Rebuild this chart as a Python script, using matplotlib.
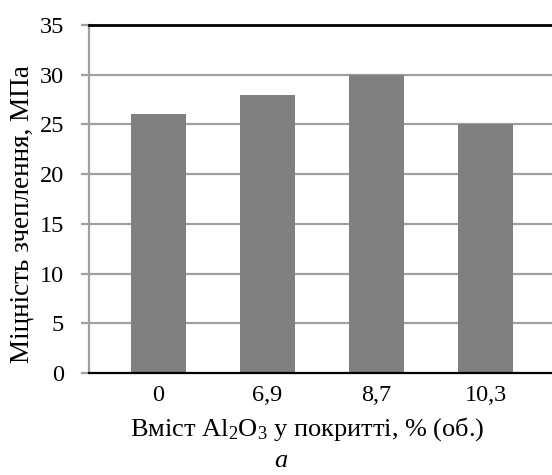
import matplotlib
matplotlib.use("Agg")
import matplotlib.pyplot as plt
from matplotlib.transforms import ScaledTranslation

categories = ["0", "6,9", "8,7", "10,3"]
values = [26, 28, 30, 25]
yticks = [0, 5, 10, 15, 20, 25, 30, 35]

plt.rcParams['font.family'] = ['Liberation Serif', 'DejaVu Serif']
plt.rcParams['mathtext.fontset'] = 'custom'
plt.rcParams['mathtext.rm'] = 'Liberation Serif'
plt.rcParams['mathtext.it'] = 'Liberation Serif:italic'

W, H = 552, 475
fig = plt.figure(figsize=(W/100, H/100), dpi=100)
ax = fig.add_axes([89/W, (H-373)/H, 1 - 89/W, (373-25)/H])

x = list(range(len(categories)))
ax.bar(x, values, width=0.5, color='#808080', zorder=3)

ax.set_ylim(0, 35)
ax.set_xlim(-0.636, 3.608)
ax.set_yticks(yticks)
ax.set_yticklabels([str(v) for v in yticks], fontsize=17.5)
ax.set_xticks(x)
ax.set_xticklabels(categories, fontsize=17.5)

# small horizontal label shifts as in the original (pixels)
shifts = [2.5, 10.5, -13.5, -1.5]
for lab, dx in zip(ax.get_xticklabels(), shifts):
    lab.set_transform(lab.get_transform() + ScaledTranslation(dx/100, 0, fig.dpi_scale_trans))

for y in yticks[1:-1]:
    ax.axhline(y, color='#a0a0a0', lw=1.6, zorder=1)
ax.axhline(35, color='black', lw=2.0, zorder=4, clip_on=False)

for s in ['right', 'top']:
    ax.spines[s].set_visible(False)
ax.spines['left'].set_color('#a0a0a0')
ax.spines['left'].set_linewidth(1.6)
ax.spines['bottom'].set_color('black')
ax.spines['bottom'].set_linewidth(1.6)
ax.spines['bottom'].set_zorder(5)

ax.tick_params(axis='y', length=6, width=1.6, color='#a0a0a0', pad=12)
ax.tick_params(axis='x', length=0, pad=8.5)

fig.text(22/W, (H-214)/H, 'Міцність зчеплення, МПа', fontsize=19.5,
         rotation=90, ha='center', va='center')
fig.text(307.5/W, (H-429)/H, 'Вміст Al$_2$O$_3$ у покритті, % (об.)', fontsize=19,
         ha='center', va='center')
fig.text(281/W, (H-461)/H, 'а', fontsize=19, style='italic',
         ha='center', va='center')

fig.savefig('out.png', dpi=100)
